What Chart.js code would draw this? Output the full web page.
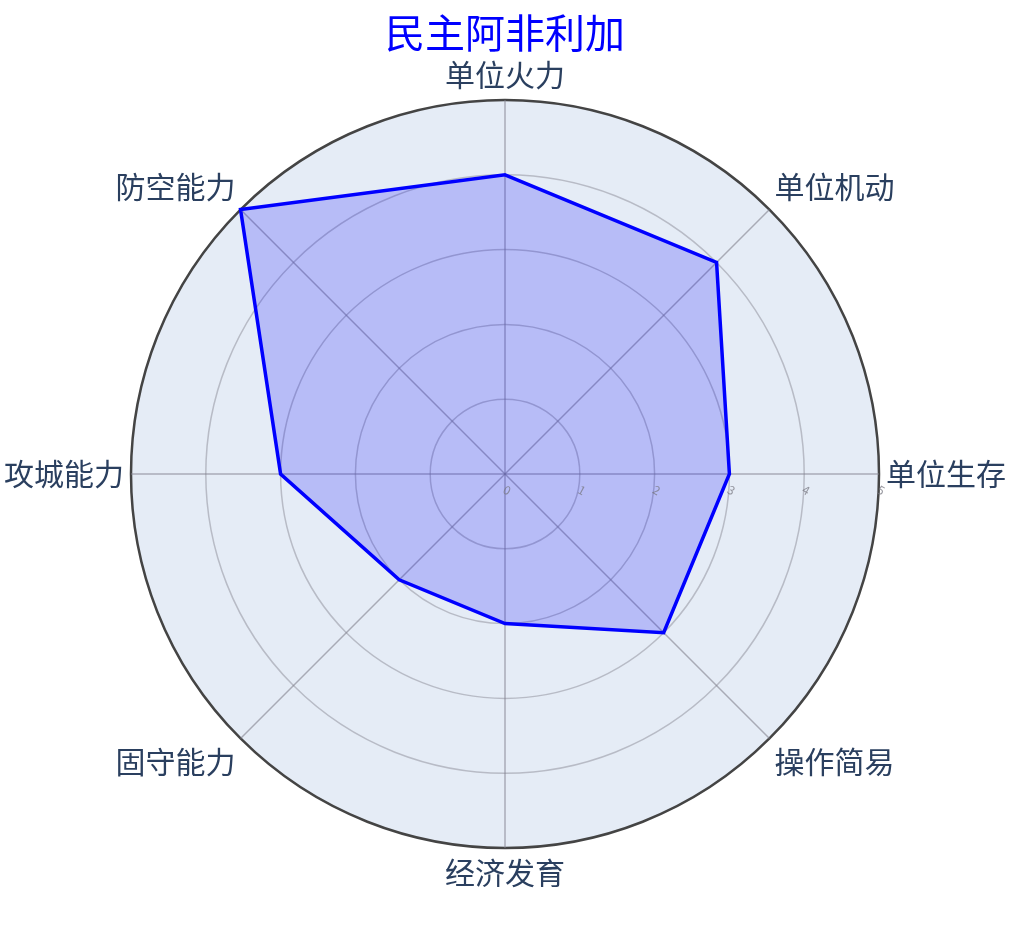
<!DOCTYPE html>
<html>
<head>
<meta charset="utf-8">
<script src="https://cdn.jsdelivr.net/npm/chart.js@4"></script>
<style>
  html, body { margin: 0; padding: 0; background: #fff; }
  #wrap { width: 1010px; height: 929px; position: relative; }
</style>
</head>
<body>
<div id="wrap"><canvas id="radarChart"></canvas></div>
<script>
// Categories, clockwise from the top
const categories = ['单位火力', '单位机动', '单位生存', '操作简易', '经济发育', '固守能力', '攻城能力', '防空能力'];
// Ratings of 民主阿非利加
const ratings = [4, 4, 3, 3, 2, 2, 3, 5];
// Radial tick labels
const tickValues = [0, 1, 2, 3, 4, 5];

const cjkFont = '"Noto Sans CJK SC", "Noto Sans", sans-serif';

// Small rotated tick labels under the horizontal axis (plotly style)
const radialTicks = {
    id: 'radialTicks',
    afterDatasetsDraw(chart) {
        const scale = chart.scales.r;
        const ctx = chart.ctx;
        ctx.save();
        ctx.fillStyle = 'rgba(120,120,130,0.75)';
        ctx.font = '12px ' + cjkFont;
        ctx.textAlign = 'center';
        ctx.textBaseline = 'middle';
        tickValues.forEach(v => {
            const d = scale.getDistanceFromCenterForValue(v);
            ctx.save();
            ctx.translate(scale.xCenter + d + 2, scale.yCenter + 16);
            ctx.rotate(0.5);
            ctx.fillText(String(v), 0, 0);
            ctx.restore();
        });
        ctx.restore();
    }
};

const ctx = document.getElementById('radarChart').getContext('2d');

new Chart(ctx, {
    type: 'radar',
    data: {
        labels: categories,
        datasets: [{
            label: '民主阿非利加',
            data: ratings,
            borderColor: '#0000ff',
            backgroundColor: 'rgba(0, 0, 255, 0.2)',
            borderWidth: 3.5,
            pointRadius: 0,
            pointHoverRadius: 0,
            fill: true,
            tension: 0
        }]
    },
    options: {
        responsive: true,
        maintainAspectRatio: false,
        animation: false,
        layout: { padding: { top: 0, bottom: 37, left: 0, right: 0 } },
        plugins: {
            legend: { display: false },
            tooltip: { enabled: false },
            title: {
                display: true,
                text: '民主阿非利加',
                color: '#0000ff',
                font: { family: cjkFont, size: 40, weight: 'normal' },
                padding: { top: 9, bottom: 0 }
            }
        },
        scales: {
            r: {
                min: 0,
                max: 5,
                backgroundColor: '#e5ecf6',
                ticks: { display: false, stepSize: 1 },
                grid: {
                    circular: true,
                    color: ctx => ctx.tick && ctx.tick.value === 5 ? '#444444' : 'rgba(128,128,140,0.45)',
                    lineWidth: ctx => ctx.tick && ctx.tick.value === 5 ? 2.5 : 1.5
                },
                angleLines: { color: 'rgba(128,128,140,0.6)', lineWidth: 1.5 },
                pointLabels: {
                    color: '#2a3f5f',
                    padding: 7,
                    font: { family: cjkFont, size: 30 }
                }
            }
        }
    },
    plugins: [radialTicks]
});
</script>
</body>
</html>
